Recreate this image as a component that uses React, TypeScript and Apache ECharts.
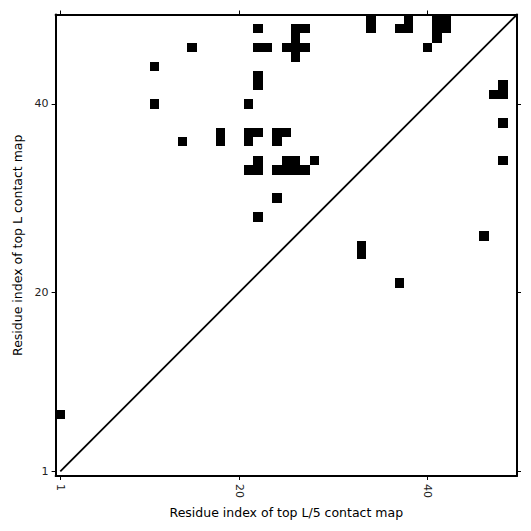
import React, { useEffect, useRef } from "react";
import * as echarts from "echarts";

// Residue count and tick labels
const L = 49;
const tickValues = [1, 20, 40];

// Contacts above the diagonal (top L contact map): [residue i, residue j]
const topLContacts: [number, number][] = [
  [22, 48], [26, 48], [27, 48], [26, 47],
  [15, 46], [22, 46], [23, 46], [25, 46], [26, 46], [27, 46], [26, 45],
  [11, 44], [22, 43], [22, 42], [11, 40], [21, 40],
  [18, 37], [21, 37], [22, 37], [24, 37], [25, 37],
  [14, 36], [18, 36], [21, 36], [24, 36],
  [22, 34], [25, 34], [26, 34], [28, 34],
  [21, 33], [22, 33], [24, 33], [25, 33], [26, 33], [27, 33],
  [24, 30], [22, 28],
  [34, 49], [34, 48], [38, 49], [37, 48], [38, 48],
  [41, 49], [42, 49], [41, 48], [42, 48], [41, 47], [40, 46],
  [1, 7],
];

// Contacts below the diagonal (top L/5 contact map)
const topL5Contacts: [number, number][] = [
  [48, 42], [47, 41], [48, 41], [48, 38], [48, 34],
  [46, 26], [33, 25], [33, 24], [37, 21],
];

// Diagonal reference line
const diagonal: [number, number][] = [[1, 1], [L + 0.5, L + 0.5]];

const FONT = "DejaVu Sans";

export default function App() {
  const ref = useRef<HTMLDivElement>(null);
  useEffect(() => {
    if (!ref.current) return;
    const chart = echarts.init(ref.current, null, { renderer: "svg" });
    const renderCell = (params: any, api: any) => {
      const x = api.value(0);
      const y = api.value(1);
      const p0 = api.coord([x - 0.5, y + 0.5]);
      const p1 = api.coord([x + 0.5, y - 0.5]);
      const x0 = Math.round(p0[0]);
      const y0 = Math.round(p0[1]);
      const x1 = Math.round(p1[0]);
      const y1 = Math.round(p1[1]);
      return {
        type: "rect",
        shape: { x: x0, y: y0, width: x1 - x0, height: y1 - y0 },
        style: { fill: "#000" },
      };
    };
    const axisCommon = {
      type: "value",
      min: 0.5,
      max: L + 0.5,
      splitLine: { show: false },
      axisLine: { show: true, onZero: false, lineStyle: { color: "#000", width: 2 } },
      axisTick: { show: true, inside: false, length: 4, customValues: tickValues, lineStyle: { color: "#000", width: 1 } },
    };
    chart.setOption({
      animation: false,
      backgroundColor: "#fff",
      grid: { left: 55.6, right: 14, top: 14.5, bottom: 55, containLabel: false },
      xAxis: [
        {
          ...axisCommon,
          position: "bottom",
          name: "Residue index of top L/5 contact map",
          nameLocation: "middle",
          nameGap: 26,
          nameTextStyle: { fontFamily: FONT, fontSize: 12.5, color: "#000" },
          axisLabel: { show: true, customValues: tickValues, rotate: -90, margin: 8, fontFamily: FONT, fontSize: 11, color: "#222" },
        },
        {
          ...axisCommon,
          position: "top",
          axisLabel: { show: false },
        },
      ],
      yAxis: [
        {
          ...axisCommon,
          position: "left",
          name: "Residue index of top L contact map",
          nameLocation: "middle",
          nameGap: 25,
          nameTextStyle: { fontFamily: FONT, fontSize: 12.5, color: "#000" },
          axisLabel: { show: true, customValues: tickValues, margin: 7, fontFamily: FONT, fontSize: 11, color: "#222" },
        },
        {
          ...axisCommon,
          position: "right",
          axisLabel: { show: false },
        },
      ],
      series: [
        {
          type: "custom",
          renderItem: renderCell,
          data: topLContacts,
          clip: true,
        },
        {
          type: "custom",
          renderItem: renderCell,
          data: topL5Contacts,
          clip: true,
        },
        {
          type: "line",
          data: diagonal,
          showSymbol: false,
          symbol: "none",
          clip: true,
          lineStyle: { color: "#000", width: 1.8 },
        },
      ],
    });
    return () => chart.dispose();
  }, []);
  return (
    <div
      ref={ref}
      style={{ position: "fixed", left: 0, top: 0, width: 531, height: 531, background: "#fff" }}
    />
  );
}
